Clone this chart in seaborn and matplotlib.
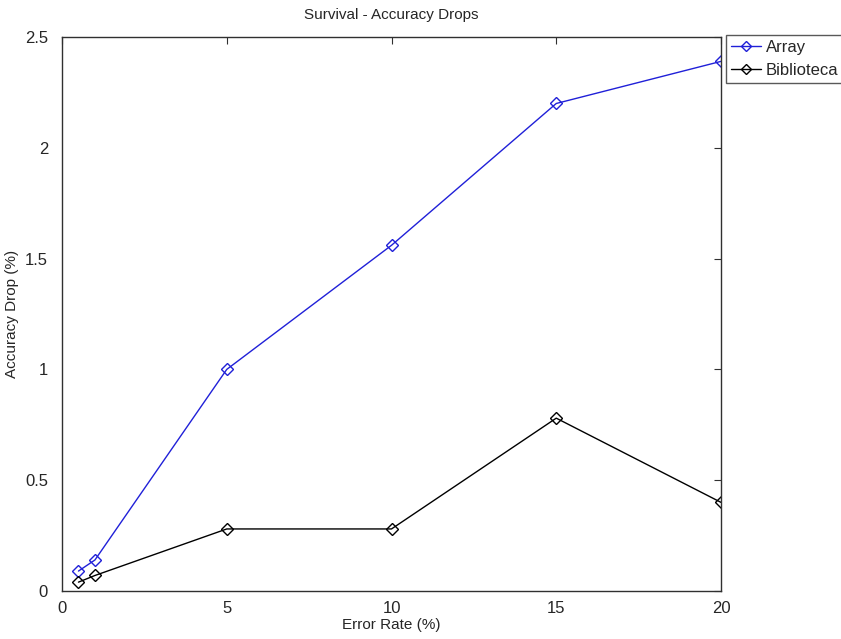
import matplotlib
matplotlib.use("Agg")
import matplotlib.pyplot as plt
import seaborn as sns
import pandas as pd

error_rate = [0.5, 1, 5, 10, 15, 20]
array_drop = [0.09, 0.14, 1.0, 1.56, 2.2, 2.39]
biblioteca_drop = [0.04, 0.07, 0.28, 0.28, 0.78, 0.40]
series_names = ["Array", "Biblioteca"]
colors = ["#2020d8", "#000000"]

df = pd.DataFrame({
    "Error Rate": error_rate * 2,
    "Drop": array_drop + biblioteca_drop,
    "Series": [series_names[0]] * len(error_rate) + [series_names[1]] * len(error_rate),
})

sns.set_style("white")
plt.rcParams["font.family"] = ["Liberation Sans", "DejaVu Sans"]

fig = plt.figure(figsize=(8.41, 6.39), dpi=100)
ax = fig.add_axes([62 / 841, 48 / 639, 659 / 841, 554 / 639])

sns.lineplot(data=df, x="Error Rate", y="Drop", hue="Series",
             palette=dict(zip(series_names, colors)), marker="D",
             markersize=6, markerfacecolor="none", markeredgewidth=1.0,
             linewidth=1.0, ax=ax, legend=True)
for line, c in zip(ax.lines, colors):
    line.set_markeredgecolor(c)

ax.set_xlim(0, 20)
ax.set_ylim(0, 2.5)
ax.set_xticks([0, 5, 10, 15, 20])
ax.set_yticks([0, 0.5, 1, 1.5, 2, 2.5])
ax.set_yticklabels(["0", "0.5", "1", "1.5", "2", "2.5"])
ax.tick_params(direction="in", top=True, right=True, length=5, labelsize=12,
               color="#303030", width=0.8)
ax.tick_params(axis="x", pad=7)
ax.tick_params(axis="y", pad=10)
for s in ax.spines.values():
    s.set_color("#303030")
    s.set_linewidth(1.0)

ax.set_xlabel("Error Rate (%)", fontsize=11, labelpad=2)
ax.set_ylabel("Accuracy Drop (%)", fontsize=11, labelpad=4)
ax.set_title("Survival - Accuracy Drops", fontsize=11, pad=13)

handles, labels = ax.get_legend_handles_labels()
for h, c in zip(handles, colors):
    h.set_markeredgecolor(c)
    h.set_markerfacecolor("none")
    h.set_markersize(5)
leg = ax.legend(handles, labels, loc="upper left", bbox_to_anchor=(1.0076, 1.0036),
                frameon=True, fancybox=False, fontsize=12, borderpad=0.3,
                handlelength=1.8, handletextpad=0.3, labelspacing=0.45,
                borderaxespad=0)
leg.get_frame().set_edgecolor("#303030")
leg.get_frame().set_linewidth(1.0)

fig.savefig("out.png", dpi=100)
